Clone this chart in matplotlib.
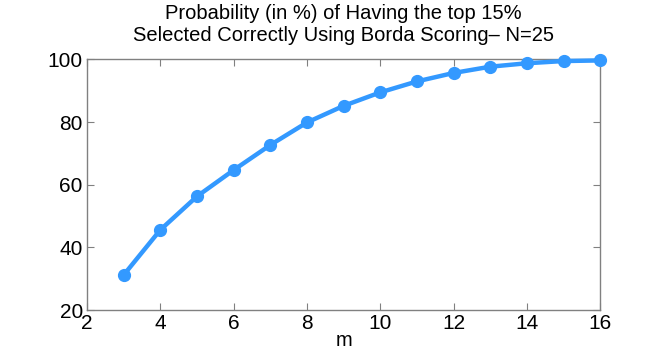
import matplotlib
matplotlib.use("Agg")
import matplotlib.pyplot as plt

m_values = [3, 4, 5, 6, 7, 8, 9, 10, 11, 12, 13, 14, 15, 16]
probability = [31.2, 45.6, 56.3, 64.7, 72.7, 79.9, 85.2, 89.5, 93.0, 95.7, 97.7, 98.8, 99.5, 99.7]
x_ticks = [2, 4, 6, 8, 10, 12, 14, 16]
y_ticks = [20, 40, 60, 80, 100]
title_text = "Probability (in %) of Having the top 15%\nSelected Correctly Using Borda Scoring\u2013 N=25"
xlabel_text = "m"

plt.rcParams['font.family'] = ['Liberation Sans', 'DejaVu Sans']

fig = plt.figure(figsize=(6.64, 3.52), dpi=100)
ax = fig.add_axes([0.131, 0.119, 0.773, 0.712])
ax.plot(m_values, probability, color='#3399FF', linewidth=3.2, marker='o',
        markersize=8.5, markerfacecolor='#3399FF', markeredgecolor='#3399FF',
        clip_on=False, zorder=3)
ax.set_xlim(2, 16)
ax.set_ylim(20, 100)
ax.set_xticks(x_ticks)
ax.set_yticks(y_ticks)
ax.tick_params(direction='in', length=5, width=0.8, color='#808080',
               top=True, right=True, labelsize=15, pad=3)
for s in ax.spines.values():
    s.set_color('#808080')
    s.set_linewidth(1.0)
ax.set_title(title_text, fontsize=14.5, pad=13, linespacing=1.2)
ax.set_xlabel(xlabel_text, fontsize=14.5, labelpad=-2)
fig.savefig("out.png", dpi=100)
